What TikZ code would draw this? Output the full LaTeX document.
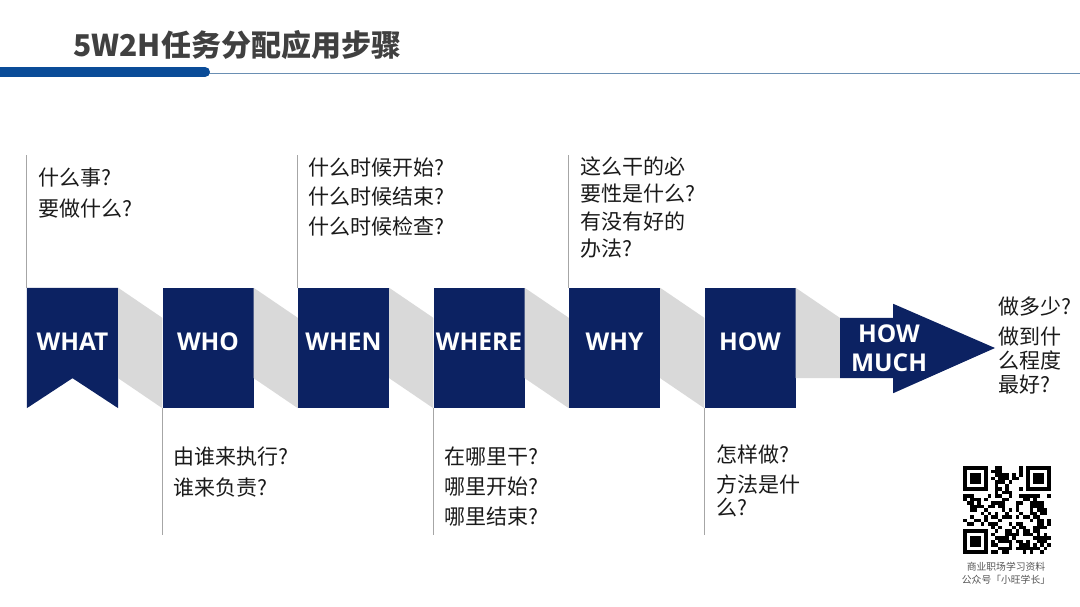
\documentclass[tikz,border=0pt]{standalone}
\usepackage{fontspec}
\setmainfont{Noto Sans CJK SC}
\newfontfamily\labelfont{Open Sans}
\usepackage{xcolor}

\definecolor{navy}{HTML}{0C2262}
\definecolor{linkgray}{HTML}{D9D9D9}
\definecolor{guidegray}{HTML}{A6A6A6}
\definecolor{titlegray}{HTML}{404040}
\definecolor{rulebar}{HTML}{0A4C98}
\definecolor{rulethin}{HTML}{6A8FB3}
\definecolor{notetext}{HTML}{1A1A1A}
\definecolor{captiongray}{HTML}{555555}

\begin{document}
\begin{tikzpicture}[x=1pt,y=-1pt]

        \tikzset{
            stepbox/.style={fill=navy, minimum width=91pt, minimum height=120pt, inner sep=0pt},
            steplabel/.style={text=white, align=center, font=\labelfont\bfseries\fontsize{24.5}{29}\selectfont},
            link/.style={fill=linkgray},
            guide/.style={draw=guidegray, line width=0.8pt},
            note/.style={anchor=base west, align=left, inner sep=0pt, text=notetext, font=\fontsize{21}{30.5}\selectfont}
        }

        \useasboundingbox (0,0) rectangle (1080,607);

        % title and rule
        \node[anchor=west, inner sep=0pt, text=titlegray, font=\bfseries\fontsize{30}{30}\selectfont] (title) at (73,45) {5W2H任务分配应用步骤};
        \draw[line width=0.9pt, draw=rulethin] (205,73) -- (1080,73);
        \draw[line width=10pt, line cap=round, draw=rulebar] (-10,72) -- (205,72);

        % steps
        \node[stepbox, fill=none] (what) at (72.5,348) {};
        \foreach \n/\x in {who/208, when/343.5, where/479, why/614.5, how/750} {
            \node[stepbox] (\n) at (\x,348) {};
        }
        \node[inner sep=0pt, minimum width=53pt, minimum height=60pt] (howmuch) at (866.5,348) {};
        \coordinate (tip) at (995,348);

        \fill[navy] (what.north west) -- (what.north east) -- (what.south east)
            -- ([yshift=30pt]what.south) -- (what.south west) -- cycle;
        \fill[navy] (howmuch.north west) -- (howmuch.north east) -- ([yshift=14pt]howmuch.north east)
            -- (tip) -- ([yshift=-15pt]howmuch.south east) -- (howmuch.south east) -- (howmuch.south west) -- cycle;

        % links
        \foreach \a/\b in {what/who, who/when, when/where, where/why, why/how} {
            \fill[link] (\a.north east) -- ([yshift=-30pt]\b.north west) -- (\b.south west) -- ([yshift=30pt]\a.south east) -- cycle;
        }
        \fill[link] (how.north east) -- (howmuch.north west) -- (howmuch.south west) -- ([yshift=30pt]how.south east) -- cycle;

        \foreach \n/\t in {what/WHAT, who/WHO, when/WHEN, where/WHERE, why/WHY, how/HOW} {
            \node[steplabel] (\n-label) at ([yshift=6pt]\n.center) {\t};
        }
        \node[steplabel] (howmuch-label) at (889,348.5) {HOW\\MUCH};

        % guides
        \foreach \n in {what, when, why} {
            \draw[guide] (\n.north west) -- ++(0,-133);
        }
        \foreach \n in {who, where, how} {
            \draw[guide] (\n.south west) -- ++(0,127);
        }

        % notes (placed at the baseline of the last line)
        \node[note] (what-note) at (38,216) {什么事?\\要做什么?};
        \node[note] (when-note) at (308,235) {什么时候开始?\\[-0.5pt]什么时候结束?\\[-0.5pt]什么时候检查?};
        \node[note, font=\fontsize{21}{27.5}\selectfont] (why-note) at (580,257) {这么干的必\\要性是什么?\\有没有好的\\办法?};
        \node[note] (who-note) at (173,495) {由谁来执行?\\谁来负责?};
        \node[note] (where-note) at (444,524) {在哪里干?\\[-0.5pt]哪里开始?\\[-0.5pt]哪里结束?};
        \node[note] (how-note) at (716,515) {怎样做?\\方法是什\\[-8pt]么?};
        \node[note] (much-note) at (998,392) {做多少?\\[-1pt]做到什\\[-6pt]么程度\\[-7pt]最好?};

        % qr code
        \begin{scope}[shift={(963,466)}]
            \pgfmathsetseed{42}
            \foreach \i in {0,...,24} {
                \foreach \j in {0,...,24} {
                    \pgfmathtruncatemacro\skipit{((\i<8)&&(\j<8))||((\i>16)&&(\j<8))||((\i<8)&&(\j>16))}
                    \pgfmathrandominteger{\bit}{0}{1}
                    \ifnum\skipit=0 \ifnum\bit=1
                        \fill ({3.5*\i},{3.5*\j}) rectangle +(3.6,3.6);
                    \fi\fi
                }
            }
            \foreach \ci/\cj in {0/0, 18/0, 0/18} {
                \fill ({3.5*\ci},{3.5*\cj}) rectangle +(24.5,24.5);
                \fill[white] ({3.5*\ci+3.5},{3.5*\cj+3.5}) rectangle +(17.5,17.5);
                \fill ({3.5*\ci+7},{3.5*\cj+7}) rectangle +(10.5,10.5);
            }
        \end{scope}
        \node[align=center, inner sep=0pt, text=captiongray, font=\fontsize{9.8}{13}\selectfont] (qr-caption) at (1006,573) {商业职场学习资料\\公众号「小旺学长」};

\end{tikzpicture}
\end{document}
